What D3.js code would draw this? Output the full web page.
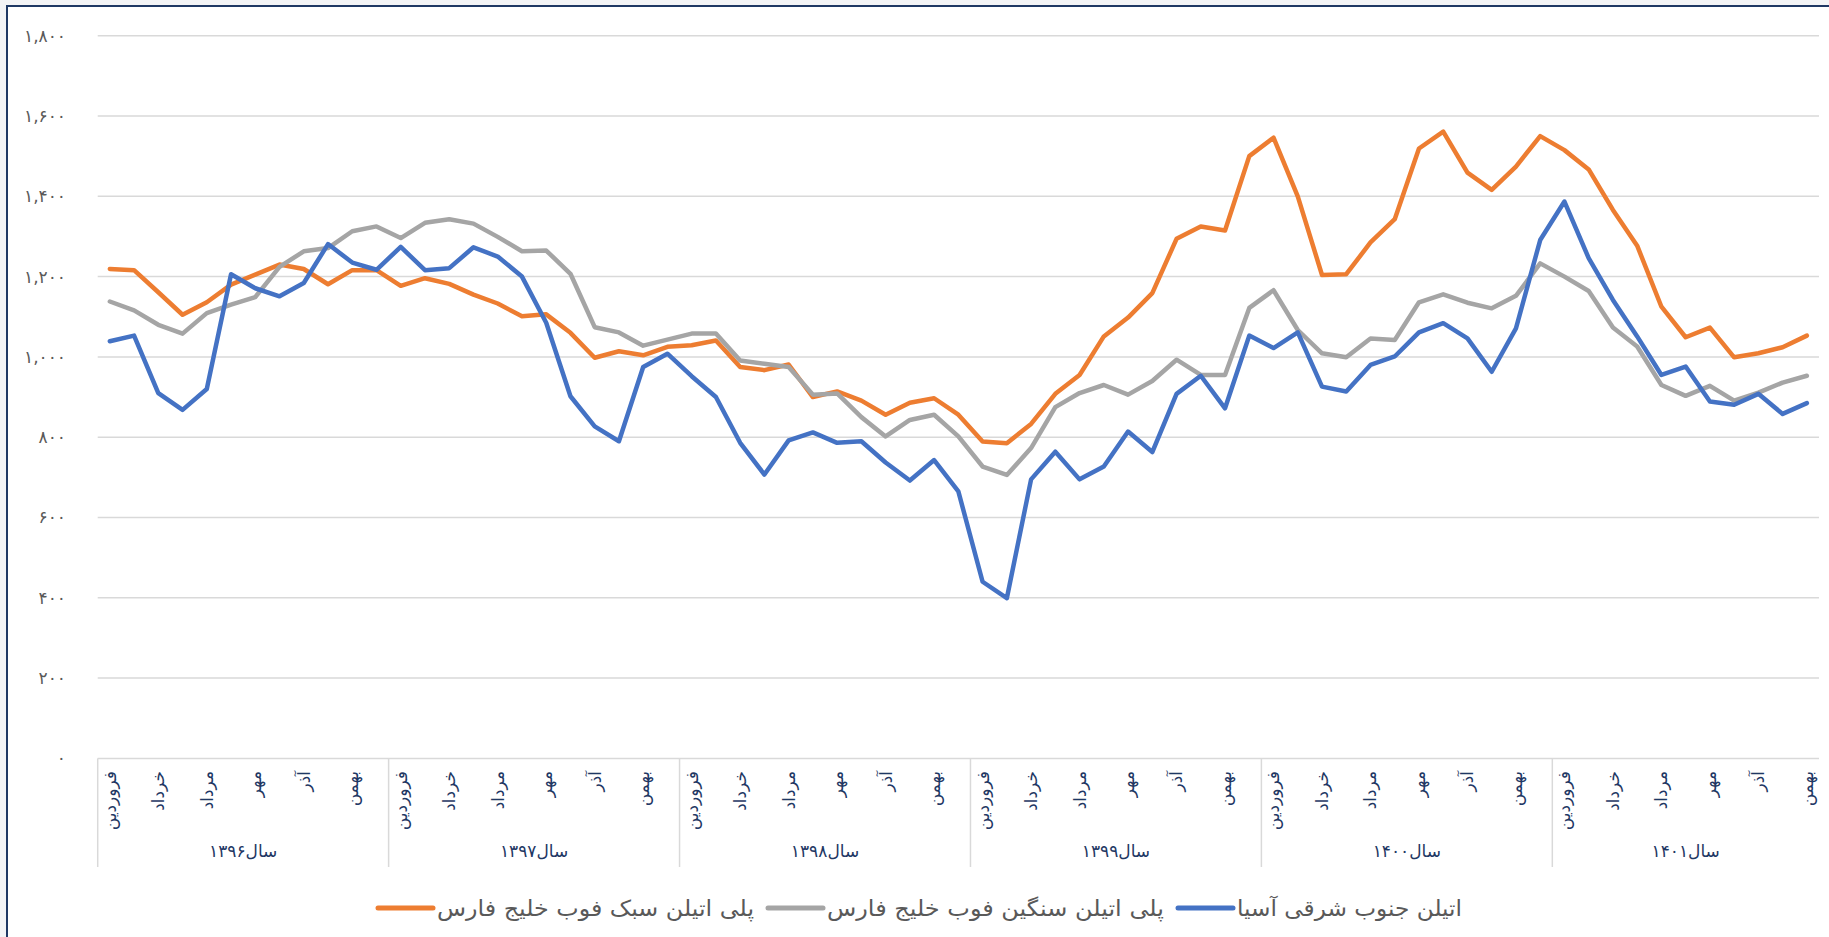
<!DOCTYPE html>
<html>
<head>
<meta charset="utf-8">
<script src="https://cdn.jsdelivr.net/npm/d3@7"></script>
<style>
  html, body { margin: 0; padding: 0; background: #f3f4f6; }
  svg { display: block; }
  text { font-family: "DejaVu Sans", "Noto Sans", sans-serif; }
</style>
</head>
<body>
<svg id="chart" width="1829" height="937"></svg>
<script>
// ---- data ----
const monthNames = ['فروردین','اردیبهشت','خرداد','تیر','مرداد','شهریور','مهر','آبان','آذر','دی','بهمن','اسفند'];
const yearLabels = ['سال۱۳۹۶','سال۱۳۹۷','سال۱۳۹۸','سال۱۳۹۹','سال۱۴۰۰','سال۱۴۰۱'];
const monthsPerYear = [12, 12, 12, 12, 12, 11];
const yTicks = [0, 200, 400, 600, 800, 1000, 1200, 1400, 1600, 1800];

const seriesNames = ['پلی اتیلن سبک فوب خلیج فارس', 'پلی اتیلن سنگین فوب خلیج فارس', 'اتیلن جنوب شرقی آسیا'];

const ldpe = [1219,1216,1161,1105,1136,1180,1205,1230,1219,1181,1216,1216,
              1177,1196,1182,1155,1133,1101,1106,1060,998,1014,1004,1025,
              1029,1041,975,967,981,900,914,891,856,886,897,856,
              789,785,833,908,955,1051,1098,1159,1294,1325,1315,1500,
              1546,1400,1204,1206,1285,1343,1519,1561,1459,1416,1474,1550,
              1515,1467,1366,1277,1125,1049,1073,999,1009,1024,1053];
const hdpe = [1138,1116,1080,1058,1109,1130,1149,1224,1263,1271,1313,1325,
              1296,1334,1343,1332,1299,1263,1265,1207,1074,1061,1028,1043,
              1058,1058,991,983,975,906,909,850,802,843,856,802,
              727,706,773,875,910,930,906,940,993,955,955,1122,
              1166,1067,1009,999,1046,1042,1136,1156,1135,1121,1152,1233,
              1200,1164,1073,1026,930,903,928,891,911,936,953];
const ethylene = [1039,1053,910,868,920,1206,1171,1151,1184,1281,1235,1217,
                  1274,1216,1221,1273,1250,1200,1085,902,827,790,975,1008,
                  952,900,786,707,792,812,786,790,737,692,743,665,
                  440,399,695,764,695,727,814,763,908,953,872,1053,
                  1022,1061,926,914,980,1001,1061,1084,1046,963,1071,1291,
                  1387,1246,1142,1051,955,976,889,881,908,858,885];

const colors = ['#ED7D31', '#A5A5A5', '#4472C4'];

// ---- categories ----
const categories = [];
monthsPerYear.forEach((n, yi) => {
  for (let m = 0; m < n; m++) categories.push({ year: yi, month: m, idx: categories.length });
});

const toFa = s => s.replace(/\d/g, d => '۰۱۲۳۴۵۶۷۸۹'[+d]);

// ---- layout ----
const W = 1829, H = 937;
const plot = { left: 97.7, right: 1819, top: 35.7, bottom: 758.4 };
const legendTextWidths = [317, 337, 225];

const svg = d3.select('#chart');

// frame
svg.append('rect').attr('x', 0).attr('y', 0).attr('width', W).attr('height', H).attr('fill', '#f3f4f6');
svg.append('rect').attr('x', 7).attr('y', 6).attr('width', W + 10).attr('height', H + 10)
  .attr('fill', '#ffffff').attr('stroke', '#1f3864').attr('stroke-width', 2);

const x = d3.scaleBand().domain(categories.map(c => c.idx)).range([plot.left, plot.right]).padding(0);
const y = d3.scaleLinear().domain([0, 1800]).range([plot.bottom, plot.top]);

// gridlines
svg.append('g').selectAll('line').data(yTicks).join('line')
  .attr('x1', plot.left).attr('x2', plot.right)
  .attr('y1', d => y(d)).attr('y2', d => y(d))
  .attr('stroke', '#d9d9d9').attr('stroke-width', 1.5);

// y axis labels
const yAxis = d3.axisLeft(y).tickValues(yTicks).tickSize(0).tickPadding(0)
  .tickFormat(d => toFa(d3.format(',')(d)));
const yg = svg.append('g').attr('transform', `translate(66,0)`).call(yAxis);
yg.select('.domain').remove();
yg.selectAll('text').attr('fill', '#595959').attr('font-size', 17)
  .attr('font-family', '"DejaVu Sans", sans-serif');

// year separators
const yearStarts = [];
let acc = 0;
monthsPerYear.forEach(n => { yearStarts.push(acc); acc += n; });
svg.append('g').selectAll('line').data(yearStarts).join('line')
  .attr('x1', d => x(d)).attr('x2', d => x(d))
  .attr('y1', plot.bottom).attr('y2', 867)
  .attr('stroke', '#d9d9d9').attr('stroke-width', 1.5);

// month labels
svg.append('g').selectAll('text').data(categories.filter(c => c.idx % 2 === 0)).join('text')
  .attr('transform', c => `translate(${x(c.idx) + x.bandwidth() / 2},771) rotate(-90)`)
  .attr('text-anchor', 'end')
  .attr('dy', '0.35em')
  .attr('font-size', 17)
  .attr('fill', '#1f3864')
  .text(c => monthNames[c.month]);

// year labels
svg.append('g').selectAll('text').data(yearLabels).join('text')
  .attr('x', (d, i) => {
    const s = yearStarts[i], e = s + monthsPerYear[i];
    return (x(s) + x(e - 1) + x.bandwidth()) / 2;
  })
  .attr('y', 857)
  .attr('text-anchor', 'middle')
  .attr('font-size', 17)
  .attr('fill', '#1f3864')
  .text(d => d);

// lines
const series = [ldpe, hdpe, ethylene];
const line = d3.line().x((d, i) => x(i) + x.bandwidth() / 2).y(d => y(d));
svg.append('g').selectAll('path').data(series).join('path')
  .attr('d', d => line(d))
  .attr('fill', 'none')
  .attr('stroke', (d, i) => colors[i])
  .attr('stroke-width', 4.5)
  .attr('stroke-linejoin', 'round')
  .attr('stroke-linecap', 'round');

// legend
const lg = svg.append('g');
const items = lg.selectAll('g').data(seriesNames).join('g');
items.append('line').attr('x1', 0).attr('x2', 55).attr('y1', 0).attr('y2', 0)
  .attr('stroke', (d, i) => colors[i]).attr('stroke-width', 5).attr('stroke-linecap', 'round');
items.append('text').attr('x', 59).attr('y', 0).attr('dy', '0.35em')
  .attr('font-size', 22).attr('fill', '#595959')
  .attr('textLength', (d, i) => legendTextWidths[i])
  .attr('lengthAdjust', 'spacingAndGlyphs')
  .text(d => d);
const widths = legendTextWidths.map(w => 59 + w);
const total = d3.sum(widths) + 14 * (widths.length - 1);
let cx = 920 - total / 2;
items.attr('transform', (d, i) => {
  const tx = cx; cx += widths[i] + 14;
  return `translate(${tx},908)`;
});
</script>
</body>
</html>
